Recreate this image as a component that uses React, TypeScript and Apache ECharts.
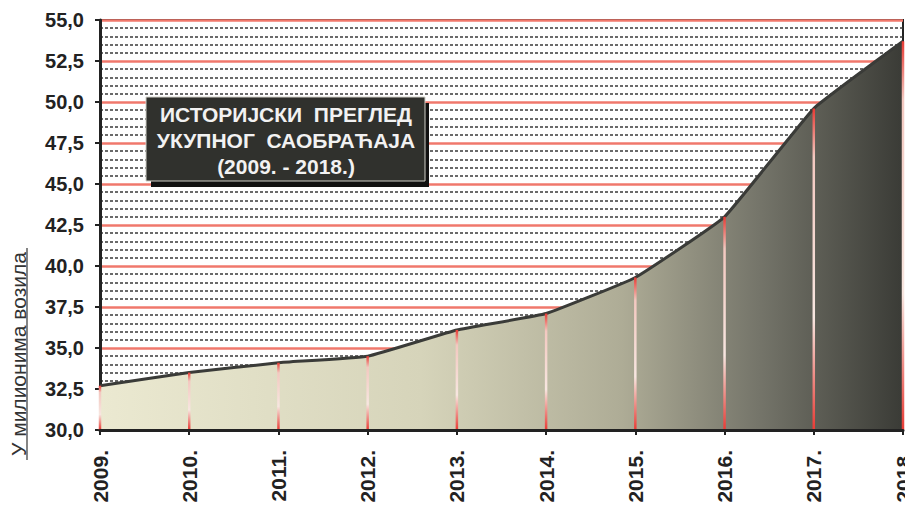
import React, { useEffect, useRef } from "react";
import * as echarts from "echarts";

const years = ["2009.", "2010.", "2011.", "2012.", "2013.", "2014.", "2015.", "2016.", "2017.", "2018."];
const traffic = [32.7, 33.5, 34.1, 34.5, 36.1, 37.1, 39.3, 43.0, 49.6, 53.7];
const titleLines = ["ИСТОРИЈСКИ  ПРЕГЛЕД", "УКУПНОГ  САОБРАЋАЈА", "(2009. - 2018.)"];
const yAxisTitle = "У милионима возила";

export default function App() {
  const ref = useRef<HTMLDivElement>(null);
  useEffect(() => {
    if (!ref.current) return;
    const chart = echarts.init(ref.current, null, { renderer: "svg" });
    const font = "'Liberation Sans', Arial, sans-serif";
    chart.setOption({
      animation: false,
      backgroundColor: "#ffffff",
      grid: {
        left: 100,
        right: 2,
        top: 20,
        bottom: 76,
        outerBoundsMode: "none",
        containLabel: false,
        show: true,
        borderColor: "#222",
        borderWidth: 2,
        backgroundColor: "transparent",
      },
      xAxis: {
        type: "category",
        data: years,
        boundaryGap: false,
        axisLine: { show: true, lineStyle: { color: "#222", width: 3 } },
        axisTick: { show: true, length: 5, lineStyle: { color: "#222", width: 2 } },
        axisLabel: {
          rotate: 90,
          margin: 20,
          fontFamily: font,
          fontWeight: "bold",
          fontSize: 21,
          color: "#222",
          interval: 0,
        },
        splitLine: { show: false },
        z: 10,
      },
      yAxis: {
        type: "value",
        min: 30,
        max: 55,
        interval: 2.5,
        axisLine: { show: true, lineStyle: { color: "#222", width: 3 } },
        axisTick: { show: true, length: 5, lineStyle: { color: "#222", width: 2 } },
        axisLabel: {
          margin: 16,
          fontFamily: font,
          fontWeight: "bold",
          fontSize: 20,
          color: "#222",
          formatter: (v: number) => v.toFixed(1).replace(".", ","),
        },
        splitLine: { show: true, lineStyle: { color: "#f0786c", width: 2.5 } },
        minorTick: { show: false, splitNumber: 5 },
        minorSplitLine: { show: true, lineStyle: { color: "#3a3a3a", width: 1.5, type: [3, 2] } },
      },
      series: [
        {
          type: "line",
          data: traffic,
          smooth: 0.1,
          showSymbol: false,
          lineStyle: { color: "#3a3b38", width: 3 },
          areaStyle: {
            opacity: 1,
            color: new echarts.graphic.LinearGradient(0, 0, 1, 0, [
              { offset: 0, color: "#ebe9d1" },
              { offset: 0.4, color: "#d6d4ba" },
              { offset: 0.65, color: "#aeac96" },
              { offset: 0.82, color: "#75756a" },
              { offset: 1, color: "#3a3b36" },
            ]),
          },
          z: 3,
        },
        {
          type: "bar",
          data: traffic,
          barWidth: 2.5,
          itemStyle: {
            color: new echarts.graphic.LinearGradient(0, 0, 0, 1, [
              { offset: 0, color: "#e83a34" },
              { offset: 0.15, color: "#f3c8c0" },
              { offset: 0.65, color: "#f7e6e0" },
              { offset: 1, color: "#e83a34" },
            ]),
          },
          z: 4,
        },
      ],
      graphic: [
        {
          type: "text",
          x: 18,
          y: 354,
          rotation: Math.PI / 2,
          style: {
            text: yAxisTitle,
            font: `21px ${font}`,
            fill: "#333",
            align: "center",
            verticalAlign: "middle",
          },
        },
        {
          type: "line",
          shape: { x1: 27, y1: 248, x2: 27, y2: 460 },
          style: { stroke: "#333", lineWidth: 1.2 },
        },
        {
          type: "rect",
          shape: { x: 151, y: 103, width: 278, height: 84 },
          style: { fill: "#111" },
          z: 100,
        },
        {
          type: "rect",
          shape: { x: 146, y: 97, width: 279, height: 84 },
          style: { fill: "#30312d", stroke: "#d0d0c8", lineWidth: 1 },
          z: 101,
        },
        {
          type: "text",
          x: 286,
          y: 140,
          style: {
            text: titleLines.join("\n"),
            font: `bold 21px ${font}`,
            lineHeight: 26,
            fill: "#f2f2f2",
            align: "center",
            verticalAlign: "middle",
          },
          z: 102,
        },
      ],
    });
    return () => chart.dispose();
  }, []);
  return <div ref={ref} style={{ position: "absolute", left: 0, top: 0, width: 905, height: 506 }} />;
}
